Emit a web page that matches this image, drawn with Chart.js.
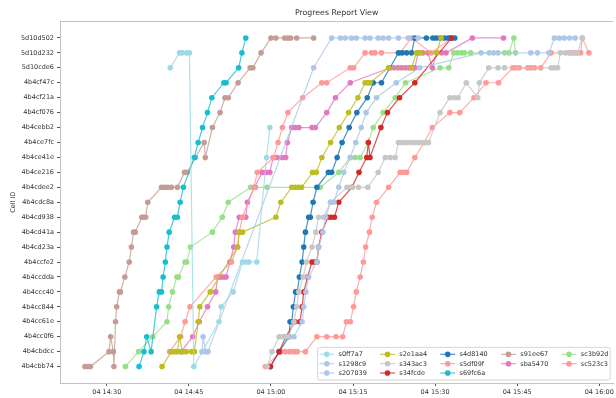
<!DOCTYPE html>
<html>
<head>
<meta charset="utf-8">
<title>Progrees Report View</title>
<script src="https://cdn.jsdelivr.net/npm/chart.js@4.4.1/dist/chart.umd.min.js"></script>
<style>
  html, body { margin: 0; padding: 0; background: #ffffff; }
  canvas { display: block; }
</style>
</head>
<body>
<canvas id="progress" width="616" height="398"></canvas>
<script>
// Cell IDs, bottom of the axis first
const cellIds = ['4b4cbb74','4b4cbdcc','4b4cc0f6','4b4cc61e','4b4cc844','4b4ccc40','4b4ccdda','4b4ccfe2',
  '4b4cd23a','4b4cd41a','4b4cd938','4b4cdc8a','4b4cdee2','4b4ce216','4b4ce41e','4b4ce7fc','4b4cebb2',
  '4b4cf076','4b4cf21a','4b4cf47c','5d10cde6','5d10d232','5d10d502'];

// Time axis ticks, minutes after 14:00 on day 04
const timeTicks = [30, 45, 60, 75, 90, 105, 120];

// Each sample: [minutes after 14:00, index into cellIds]
const s0ff7a7 = [[41.6,20],[43.3,21],[43.8,21],[44.6,21],[45.1,21],[45.9,0],[50.5,3],[50.9,4],[53.1,5],[54.8,7],[55.4,7],[56.0,7],[57.4,7],[59.2,14],[59.8,16]];
const s1298c9 = [[47.4,1],[47.6,2],[48.1,1],[48.5,1],[67.8,20],[71.1,22],[72.7,22],[73.6,22],[74.7,22],[75.6,22],[77.2,22],[78.1,22],[79.6,22],[80.5,22],[81.5,22],[83.3,22],[85.1,22],[86.9,22]];
const s207039 = [[64.2,2],[65.7,3],[66.0,4],[66.4,5],[66.9,6],[68.4,7],[68.7,8],[69.5,9],[70.0,10],[70.9,11],[71.5,11],[72.4,12],[73.3,13],[74.5,14],[75.5,15],[76.5,16],[77.4,17],[79.3,18],[82.9,19],[87.2,20],[98.4,21],[99.9,21],[100.7,21],[101.5,21],[107.5,21],[108.7,21],[110.8,21],[111.8,22],[112.7,22],[113.6,22],[114.6,22],[115.6,22]];
const s2e1aa4 = [[40.1,0],[41.8,1],[42.4,1],[42.9,1],[43.3,2],[43.8,1],[44.5,1],[45.5,1],[46.0,1],[46.7,3],[47.0,4],[48.9,5],[53.9,8],[54.2,9],[54.8,9],[60.9,10],[61.8,11],[63.8,12],[64.4,12],[65.0,12],[65.6,12],[67.6,13],[68.3,13],[69.3,14],[70.9,15],[72.5,16],[74.2,17],[75.9,18],[77.2,19],[77.7,19],[78.1,19],[81.5,20],[85.7,20],[86.6,21],[87.3,21],[90.3,21],[91.1,22]];
const s343ac3 = [[59.3,0],[60.2,1],[61.5,2],[62.1,2],[62.7,2],[63.2,2],[64.2,3],[64.7,4],[65.1,5],[65.9,6],[66.5,7],[67.5,8],[68.2,9],[68.7,10],[69.6,10],[70.9,11],[73.9,12],[74.8,12],[76.0,12],[77.7,12],[79.6,13],[80.9,14],[81.8,14],[82.7,14],[83.3,15],[84.0,15],[84.7,15],[85.5,15],[86.2,15],[86.9,15],[87.6,15],[88.3,15],[88.8,15],[90.9,17],[92.7,18],[93.5,18],[94.2,18],[95.7,19],[97.8,18],[98.1,19],[99.8,20],[101.5,20],[102.7,20],[111.2,20],[111.8,20],[112.4,20],[112.9,21],[113.8,21],[114.7,21],[115.6,21],[116.0,21],[116.9,22]];
const s34fcde = [[59.9,0],[61.5,1],[62.7,2],[64.4,3],[65.3,3],[65.7,4],[66.0,5],[66.7,6],[67.5,7],[68.0,7],[68.4,7],[68.7,8],[69.3,9],[70.4,10],[71.0,10],[71.6,10],[72.4,11],[74.8,12],[76.1,13],[77.5,14],[77.8,15],[78.1,14],[80.1,16],[81.3,17],[83.5,18],[86.3,19],[93.0,22]];
const s4d8140 = [[59.9,0],[61.5,1],[63.3,2],[63.5,3],[63.8,3],[64.1,4],[64.5,5],[64.8,5],[65.2,6],[65.7,7],[66.0,8],[66.3,9],[66.9,10],[67.2,10],[67.7,11],[68.4,12],[70.5,13],[71.1,13],[72.1,14],[73.0,15],[74.3,16],[75.7,17],[77.6,18],[78.7,19],[80.2,19],[83.3,21],[84.0,21],[84.8,21],[85.7,21],[86.3,22],[88.4,22],[89.6,22],[90.2,22],[90.9,22],[91.7,22],[92.4,22],[92.9,22],[93.6,22]];
const s5df09f = [[41.5,1],[43.5,2],[44.3,3],[45.2,4],[50.0,6],[52.8,7],[53.9,8],[54.2,9],[54.8,10],[56.9,12],[57.5,13],[60.5,14],[61.3,15],[62.1,16],[63.1,17],[65.8,18],[69.3,19],[70.2,19],[74.5,20],[75.1,20],[77.2,21],[78.4,21],[79.0,21],[80.2,21],[83.6,21],[85.7,22],[89.3,21],[93.0,22]];
const s69fc6a = [[35.9,0],[36.8,1],[37.3,2],[38.1,1],[39.1,4],[39.6,5],[40.0,5],[40.3,6],[40.7,7],[41.0,8],[41.4,9],[42.4,10],[42.9,10],[43.4,11],[44.0,12],[46.0,14],[46.7,15],[47.5,16],[48.4,17],[49.2,18],[51.4,19],[51.8,19],[54.1,20],[54.7,21],[55.4,22]];
const s91ee67 = [[26.0,0],[26.6,0],[27.0,0],[30.4,1],[30.7,2],[31.2,1],[31.3,0],[31.6,3],[31.8,4],[32.3,5],[32.5,5],[33.3,6],[34.1,7],[34.5,8],[34.9,9],[35.2,9],[36.4,10],[36.7,10],[37.1,10],[37.5,11],[40.0,12],[40.5,12],[41.1,12],[41.8,12],[42.9,12],[44.2,13],[44.7,13],[46.2,14],[47.8,15],[48.0,14],[49.3,16],[50.7,17],[51.6,18],[52.2,18],[54.0,19],[56.2,20],[56.7,20],[58.2,21],[60.0,22],[60.9,22],[62.5,22],[63.1,22],[63.6,22],[64.7,22],[67.8,22]];
const sba5470 = [[43.6,1],[45.7,2],[46.9,3],[48.4,4],[49.9,5],[50.3,6],[50.8,6],[51.3,6],[51.8,6],[52.5,7],[53.2,8],[53.5,9],[54.2,10],[54.8,10],[55.4,10],[55.7,11],[57.0,12],[58.4,13],[59.1,13],[59.8,13],[60.4,14],[61.1,14],[62.0,14],[62.7,14],[63.0,15],[63.8,16],[64.4,16],[65.1,16],[67.5,16],[68.1,16],[70.2,17],[71.8,18],[74.5,19],[81.8,20],[82.5,20],[83.2,20],[83.9,20],[84.6,20],[85.3,20],[86.0,20],[86.3,20],[86.9,21],[87.8,21],[88.7,21],[89.5,20],[90.3,21],[91.2,21],[92.0,21],[96.8,22],[102.5,22]];
const sc3b92d = [[33.4,0],[35.8,1],[38.4,2],[41.0,3],[41.3,4],[42.0,5],[42.8,6],[43.1,6],[44.3,7],[44.6,7],[45.3,8],[49.3,9],[51.1,10],[52.2,11],[56.3,12],[57.2,12],[59.3,12],[69.0,12],[72.4,13],[74.5,14],[75.4,14],[76.3,14],[77.8,15],[78.7,16],[80.5,17],[82.7,18],[84.6,19],[90.9,20],[92.5,20],[93.4,21],[94.1,21],[94.8,21],[95.4,21],[96.5,21],[102.7,21],[103.5,21],[104.4,22],[104.7,21]];
const sc523c3 = [[59.0,0],[61.8,1],[62.6,1],[63.4,1],[64.2,1],[64.8,1],[66.3,1],[68.4,2],[70.2,2],[71.9,2],[73.1,2],[73.8,3],[74.5,3],[75.1,4],[75.6,5],[76.3,6],[76.9,7],[77.3,8],[78.0,9],[78.5,10],[79.3,11],[81.5,12],[83.6,13],[84.2,13],[84.8,13],[86.3,14],[88.0,15],[89.5,16],[92.7,17],[94.5,17],[97.1,18],[99.3,19],[101.6,19],[104.2,20],[104.7,20],[105.4,20],[106.9,20],[107.5,20],[108.2,20],[109.3,20],[111.2,21],[114.5,21],[115.2,21],[115.9,21],[116.6,21],[116.9,22],[118.1,21]];

const seriesNames = ['s0ff7a7','s1298c9','s207039','s2e1aa4','s343ac3','s34fcde','s4d8140',
  's5df09f','s69fc6a','s91ee67','sba5470','sc3b92d','sc523c3'];
const seriesData = [s0ff7a7, s1298c9, s207039, s2e1aa4, s343ac3, s34fcde, s4d8140,
  s5df09f, s69fc6a, s91ee67, sba5470, sc3b92d, sc523c3];

// tab20-style palette, one entry per series
const seriesColors = ['#9edae5','#aec7e8','#aec7e8','#bcbd22','#c7c7c7','#d62728','#1f77b4',
  '#ff9896','#17becf','#c49c94','#e377c2','#98df8a','#ff9896'];

const FONT = 'DejaVu Sans';
const LINE_ALPHA = 0.8;
const MARKER_R = 2.8;
const LEGEND_COLS = 5;

function withAlpha(hex, a) {
  const n = parseInt(hex.slice(1), 16);
  return `rgba(${(n >> 16) & 255},${(n >> 8) & 255},${n & 255},${a})`;
}

function clockLabel(minutes) {
  const h = 14 + Math.floor(minutes / 60);
  const m = Math.round(minutes % 60);
  return '04 ' + h + ':' + String(m).padStart(2, '0');
}

const datasets = seriesNames.map((name, i) => ({
  label: name,
  data: seriesData[i].map(([t, c]) => ({ x: t, y: c })),
  borderColor: withAlpha(seriesColors[i], LINE_ALPHA),
  backgroundColor: seriesColors[i],
  pointBackgroundColor: seriesColors[i],
  pointBorderWidth: 0,
  pointRadius: MARKER_R,
  pointHoverRadius: MARKER_R,
  borderWidth: 1.2,
  tension: 0,
  fill: false
}));

// Top frame line of the plotting area
const frameTop = {
  id: 'frameTop',
  afterDatasetsDraw(chart) {
    const { ctx, chartArea: a } = chart;
    ctx.save();
    ctx.strokeStyle = '#b3b3b3';
    ctx.lineWidth = 0.8;
    ctx.beginPath();
    ctx.moveTo(a.left, a.top);
    ctx.lineTo(a.right, a.top);
    ctx.stroke();
    ctx.restore();
  }
};

// Legend with a fixed number of columns, filled column by column;
// the first (n % cols) columns take one extra entry.
const columnLegend = {
  id: 'columnLegend',
  afterDraw(chart) {
    const { ctx, chartArea: a } = chart;
    const ds = chart.data.datasets;
    const base = Math.floor(ds.length / LEGEND_COLS);
    const extra = ds.length % LEGEND_COLS;
    const columns = [];
    let k = 0;
    for (let c = 0; c < LEGEND_COLS; c++) {
      const n = base + (c < extra ? 1 : 0);
      columns.push(ds.slice(k, k + n));
      k += n;
    }
    const rows = Math.max(...columns.map(col => col.length));
    const handle = 15, gap = 4.3, colGap = 13.2, rowH = 9.35, pad = 1.8;
    ctx.save();
    ctx.font = `6.5px "${FONT}"`;
    const colW = columns.map(col => Math.max(0, ...col.map(d => ctx.measureText(d.label).width)));
    const boxW = pad * 2 + colW.reduce((s, w) => s + handle + gap + w, 0) + colGap * (LEGEND_COLS - 1);
    const boxH = rows * rowH + 4.6;
    const right = a.right - 3, bottom = a.bottom - 3;
    const left = right - boxW, top = bottom - boxH;

    ctx.beginPath();
    ctx.roundRect(left, top, boxW, boxH, 2);
    ctx.fillStyle = 'rgba(255,255,255,0.85)';
    ctx.fill();
    ctx.strokeStyle = '#cccccc';
    ctx.lineWidth = 0.8;
    ctx.stroke();

    let x = left + pad;
    columns.forEach((col, c) => {
      col.forEach((d, r) => {
        const y = top + 2.3 + rowH * (r + 0.5);
        ctx.strokeStyle = d.borderColor;
        ctx.lineWidth = 1.2;
        ctx.beginPath();
        ctx.moveTo(x, y);
        ctx.lineTo(x + handle, y);
        ctx.stroke();
        ctx.fillStyle = d.pointBackgroundColor;
        ctx.beginPath();
        ctx.arc(x + handle / 2, y, MARKER_R, 0, Math.PI * 2);
        ctx.fill();
        ctx.fillStyle = '#333333';
        ctx.textAlign = 'left';
        ctx.textBaseline = 'middle';
        ctx.fillText(d.label, x + handle + gap, y + 0.3);
      });
      x += handle + gap + colW[c] + colGap;
    });
    ctx.restore();
  }
};

new Chart(document.getElementById('progress'), {
  type: 'line',
  data: { datasets },
  options: {
    responsive: false,
    devicePixelRatio: 1,
    animation: false,
    events: [],
    layout: { padding: 0 },
    plugins: {
      legend: { display: false },
      tooltip: { enabled: false },
      title: {
        display: true,
        text: 'Progrees Report View',
        fullSize: false,
        color: '#333333',
        font: { family: FONT, size: 7.8, weight: 'normal' },
        padding: { top: 8, bottom: 4.14 }
      }
    },
    scales: {
      x: {
        type: 'linear',
        min: 21.45,
        max: 122.55,
        afterBuildTicks: (scale) => { scale.ticks = timeTicks.map(v => ({ value: v })); },
        afterFit: (scale) => { scale.height = 15; scale.paddingLeft = 0; scale.paddingRight = 0; },
        ticks: {
          autoSkip: false,
          maxRotation: 0,
          padding: 2,
          color: '#333333',
          font: { family: FONT, size: 6.5 },
          callback: (v) => clockLabel(v)
        },
        grid: { drawOnChartArea: false, drawTicks: true, tickLength: 3, tickColor: '#555555' },
        border: { display: true, color: '#b3b3b3', width: 0.8 }
      },
      y: {
        type: 'linear',
        min: -1.1,
        max: 23.1,
        afterBuildTicks: (scale) => { scale.ticks = cellIds.map((_, i) => ({ value: i })); },
        afterFit: (scale) => { scale.width = 60; scale.paddingTop = 0; scale.paddingBottom = 0; },
        ticks: {
          autoSkip: false,
          padding: 3,
          color: '#333333',
          font: { family: FONT, size: 6.5 },
          callback: (v) => cellIds[v]
        },
        title: {
          display: true,
          text: 'Cell ID',
          color: '#333333',
          font: { family: FONT, size: 6.5 },
          padding: { top: 9, bottom: 0 }
        },
        grid: { drawOnChartArea: false, drawTicks: true, tickLength: 3, tickColor: '#555555' },
        border: { display: true, color: '#b3b3b3', width: 0.8 }
      }
    }
  },
  plugins: [frameTop, columnLegend]
});
</script>
</body>
</html>
